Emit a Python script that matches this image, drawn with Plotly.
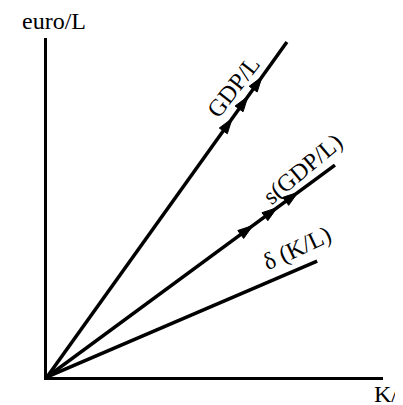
import plotly.graph_objects as go

# line end points (K/L, euro/L), all start at origin
gdp_end = (7.14, 9.88)
sav_end = (8.57, 6.25)
dep_end = (8.04, 3.42)

# arrowhead positions along the lines (x values)
gdp_arrows_x = [5.51, 5.98, 6.40]
sav_arrows_x = [6.13, 6.85, 7.47]

FONT = "Liberation Serif, Times New Roman, serif"


def line_with_arrows(end, arrows_x):
    slope = end[1] / end[0]
    xs = [0] + arrows_x + [end[0]]
    ys = [x * slope for x in xs]
    sizes = [0] + [16] * len(arrows_x) + [0]
    return go.Scatter(
        x=xs, y=ys, mode="lines+markers",
        line=dict(color="black", width=3.5),
        marker=dict(symbol="arrow", size=sizes, color="black", opacity=1,
                    angleref="previous", line=dict(width=1, color="black")),
        showlegend=False, hoverinfo="skip", cliponaxis=False,
    )


fig = go.Figure()
fig.add_trace(line_with_arrows(gdp_end, gdp_arrows_x))
fig.add_trace(line_with_arrows(sav_end, sav_arrows_x))
fig.add_trace(go.Scatter(
    x=[0, dep_end[0]], y=[0, dep_end[1]], mode="lines",
    line=dict(color="black", width=3.5),
    showlegend=False, hoverinfo="skip", cliponaxis=False,
))

labels = [
    ("GDP/L", 5.55, 8.55, -52),
    ("s(GDP/L)", 7.6, 6.15, -40),
    ("δ (K/L)", 7.45, 3.8, -25),
]
for text, x, y, ang in labels:
    fig.add_annotation(x=x, y=y, text=text, showarrow=False, textangle=ang,
                       font=dict(family=FONT, size=24, color="black"))

fig.add_annotation(x=0.2, y=10, text="euro/L", showarrow=False,
                   xanchor="center", yanchor="bottom", yshift=2,
                   font=dict(family=FONT, size=24, color="black"))
# the x-axis title runs off the right edge, as in the original
fig.add_annotation(x=9.68, y=0, text="K/L", showarrow=False,
                   xanchor="left", yanchor="top", yshift=-2,
                   font=dict(family=FONT, size=24, color="black"))

fig.update_xaxes(range=[0, 10], showline=True, linecolor="black", linewidth=3,
                 showgrid=False, zeroline=False, showticklabels=False, ticks="")
fig.update_yaxes(range=[0, 10], showline=True, linecolor="black", linewidth=3,
                 showgrid=False, zeroline=False, showticklabels=False, ticks="")
# page body has an 8px margin, so the plot area is shifted left/up by 8px
fig.update_layout(width=403, height=405, margin=dict(l=39, r=28, t=30, b=36),
                  plot_bgcolor="white", paper_bgcolor="white")

fig.write_html("out.html")
